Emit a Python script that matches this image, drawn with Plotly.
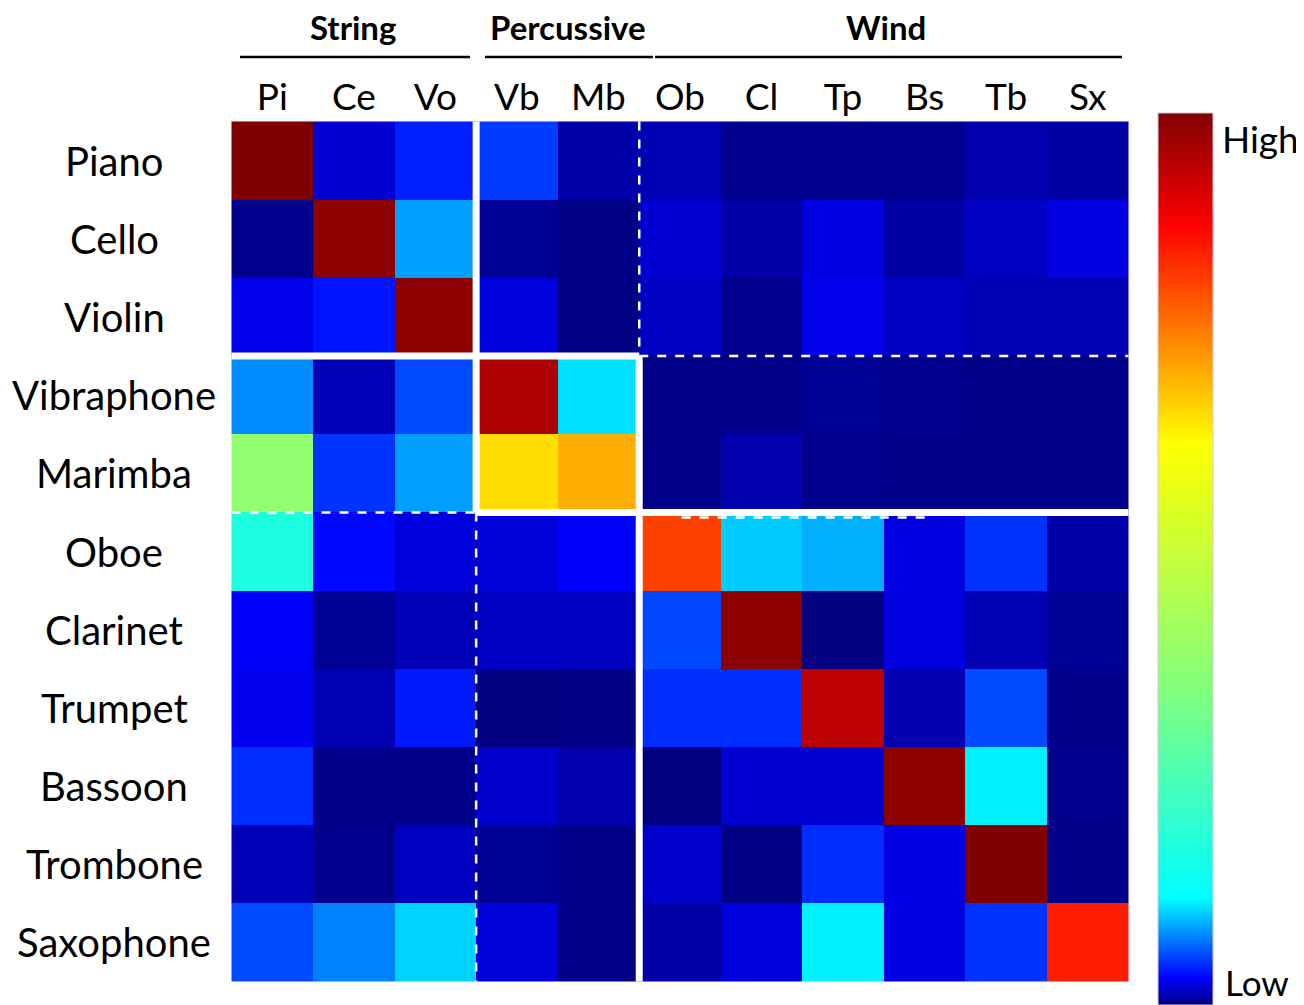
import plotly.graph_objects as go

col_labels = ["Pi", "Ce", "Vo", "Vb", "Mb", "Ob", "Cl", "Tp", "Bs", "Tb", "Sx"]
row_labels = ["Piano", "Cello", "Violin", "Vibraphone", "Marimba", "Oboe",
              "Clarinet", "Trumpet", "Bassoon", "Trombone", "Saxophone"]
group_labels = ["String", "Percussive", "Wind"]

# similarity values (0 = Low, 100 = High)
piano     = [100.0, 1.9, 4.1, 5.1, 1.0, 1.2, 0.3, 0.3, 0.3, 1.1, 0.8]
cello     = [0.3, 98.8, 8.6, 0.5, 0.1, 1.9, 0.9, 2.3, 0.8, 1.6, 2.3]
violin    = [2.5, 3.7, 98.8, 2.2, 0.05, 1.6, 0.3, 2.5, 1.6, 1.2, 1.2]
vibraphone = [7.9, 1.3, 5.6, 95.5, 10.9, 0.2, 0.2, 0.5, 0.3, 0.2, 0.2]
marimba   = [38.7, 4.8, 8.6, 66.3, 70.7, 0.2, 1.1, 0.3, 0.2, 0.2, 0.2]
oboe      = [17.4, 3.2, 2.2, 2.1, 3.0, 81.2, 10.2, 9.2, 2.3, 4.8, 1.0]
clarinet  = [2.9, 0.5, 1.3, 1.6, 1.5, 5.5, 98.8, 0.0, 2.3, 1.2, 0.5]
trumpet   = [2.6, 1.2, 3.9, 0.0, 0.05, 4.6, 4.6, 93.9, 1.1, 5.6, 0.2]
bassoon   = [4.6, 0.2, 0.2, 1.8, 1.1, 0.0, 1.9, 1.9, 98.8, 11.5, 0.3]
trombone  = [1.3, 0.3, 1.5, 0.5, 0.2, 1.8, 0.05, 4.6, 2.3, 100.0, 0.2]
saxophone = [5.6, 7.6, 10.4, 2.1, 0.2, 0.9, 2.2, 11.5, 2.3, 4.8, 84.5]

z = [piano, cello, violin, vibraphone, marimba, oboe,
     clarinet, trumpet, bassoon, trombone, saxophone]

colorscale = [
    [0.0, "#000080"],
    [0.03, "#0000FF"],
    [0.12, "#00FFFF"],
    [0.35, "#80FF80"],
    [0.63, "#FFFF00"],
    [0.874, "#FF0000"],
    [1.0, "#800000"],
]

FONT = "Lato"
OFF = 8                      # page body margin
W, H = 1304 - OFF, 1005 - OFF
PL, PR, PT, PB = 228, 1132, 118, 985   # plot area in window pixels
L, T = PL - OFF, PT - OFF
R, B = W - (PR - OFF), H - (PB - OFF)
plot_w = PR - PL
plot_h = PB - PT


def px(xw):
    return (xw - PL) / plot_w


def py(yw):
    return (PB - yw) / plot_h


fig = go.Figure()
fig.add_trace(go.Heatmap(
    z=z, x=col_labels, y=row_labels,
    colorscale=colorscale, zmin=0, zmax=100,
    xgap=0, ygap=0,
    colorbar=dict(
        lenmode="pixels", len=892,
        thicknessmode="pixels", thickness=55,
        x=px(1158), xanchor="left",
        y=py(113), yanchor="top",
        xpad=0, ypad=0,
        showticklabels=False, ticks="",
        outlinewidth=1, outlinecolor="#d8c8d8",
    ),
    hoverongaps=False,
))

# block separators: solid white and dashed white lines
n = len(col_labels)
solid = dict(color="white", width=7)
dashed = dict(color="white", width=2.5, dash="dash")
segs = [
    (2.5, -0.5, 2.5, 4.5, solid),
    (2.5, 4.5, 2.5, n - 0.5, dashed),
    (4.5, -0.5, 4.5, 2.5, dashed),
    (4.5, 2.5, 4.5, n - 0.5, solid),
    (-0.5, 2.5, 4.5, 2.5, solid),
    (4.5, 2.5, n - 0.5, 2.5, dashed),
    (-0.5, 4.5, 2.5, 4.5, dashed),
    (2.5, 4.5, n - 0.5, 4.5, solid),
    (5.02, 4.565, 8.02, 4.565, dashed),
]
for x0, y0, x1, y1, ln in segs:
    fig.add_shape(type="line", xref="x", yref="y", x0=x0, y0=y0, x1=x1, y1=y1,
                  line=ln, layer="above")

# row labels (centred, left of the heatmap)
for lab in row_labels:
    fig.add_annotation(text=lab, xref="paper", yref="y", x=px(114), y=lab,
                       xanchor="center", yanchor="middle", showarrow=False,
                       font=dict(family=FONT, size=40, color="black"))

# group headings with rules underneath
groups = [(353, 240, 470), (568, 485, 653), (886, 655, 1122)]
for (cx, lx0, lx1), g in zip(groups, group_labels):
    fig.add_annotation(text="<b>%s</b>" % g, xref="paper", yref="paper",
                       x=px(cx), y=py(27),
                       xanchor="center", yanchor="middle", showarrow=False,
                       font=dict(family=FONT, size=33, color="black"))
    fig.add_shape(type="line", xref="paper", yref="paper",
                  x0=px(lx0), x1=px(lx1), y0=py(57), y1=py(57),
                  line=dict(color="black", width=2.5))

# colorbar end labels
fig.add_annotation(text="High", xref="paper", yref="paper", x=px(1220),
                   y=py(138), xanchor="left", yanchor="middle",
                   showarrow=False, font=dict(family=FONT, size=37, color="black"))
fig.add_annotation(text="Low", xref="paper", yref="paper", x=px(1223),
                   y=py(982), xanchor="left", yanchor="middle",
                   showarrow=False, font=dict(family=FONT, size=35, color="black"))

fig.update_xaxes(side="top", showgrid=False, zeroline=False, ticks="",
                 tickfont=dict(family=FONT, size=37, color="black"),
                 showline=False, fixedrange=True)
fig.update_yaxes(autorange="reversed", showgrid=False, zeroline=False,
                 showticklabels=False, ticks="", showline=False, fixedrange=True)

fig.update_layout(
    width=W, height=H,
    margin=dict(l=L, r=R, t=T, b=B, autoexpand=False),
    paper_bgcolor="white", plot_bgcolor="white",
    font=dict(family=FONT),
)

fig.write_html("out.html")
